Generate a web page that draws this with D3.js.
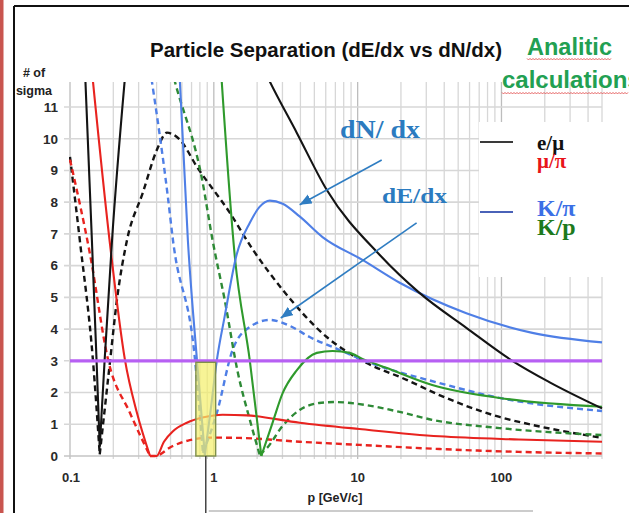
<!DOCTYPE html>
<html>
<head>
<meta charset="utf-8">
<script src="https://cdn.jsdelivr.net/npm/d3@7"></script>
<style>
  html, body { margin: 0; padding: 0; background: #fff; overflow: hidden; }
  svg { display: block; }
</style>
</head>
<body>
<svg id="chart" width="629" height="513"></svg>
<script>
// Separation power (number of sigma) versus momentum p [GeV/c].
// Each curve is split into monotone branches so the V-shaped minima stay sharp.

// e/mu, cluster counting (dN/dx) - solid black
const eMuN1 = [[0.127, 12.2], [0.142, 6.8], [0.153, 3.0], [0.161, 0.3]];
const eMuN2 = [[0.161, 0.3], [0.174, 3.0], [0.196, 6.8], [0.244, 12.2]];
const eMuN3 = [[2.22, 12.2], [2.45, 11.8], [3.77, 10.19], [6.09, 8.39], [14.2, 6.34], [26.9, 5.14],
               [57, 4.04], [119, 3.0], [215, 2.33], [500, 1.5]];
// e/mu, energy loss (dE/dx) - dashed black
const eMuE1 = [[0.1, 9.43], [0.117, 6.8], [0.1445, 3.0], [0.161, 0.05]];
const eMuE2 = [[0.161, 0.05], [0.19, 3.0], [0.212, 4.92], [0.249, 6.8], [0.321, 8.3], [0.402, 9.65],
               [0.472, 10.19], [0.58, 9.97], [0.762, 9.12], [1.29, 7.67], [1.87, 6.5], [3.01, 5.24],
               [6.09, 3.75], [10.8, 3.0], [21.9, 2.4], [37, 1.92], [97, 1.23], [164, 0.98], [500, 0.57]];

// mu/pi, dN/dx - solid red
const muPiN1 = [[0.1416, 12.2], [0.19, 6.65], [0.241, 3.03], [0.292, 1.36], [0.36, 0]];
const muPiN2 = [[0.36, 0], [0.4, 0], [0.45, 0.45], [0.52, 0.78], [0.65, 1.05], [0.85, 1.22], [1.15, 1.3],
                [1.7, 1.28], [3.95, 1.05], [10.3, 0.85], [37, 0.62], [132, 0.52], [500, 0.45]];
// mu/pi, dE/dx - dashed red
const muPiE1 = [[0.1, 9.34], [0.138, 6.34], [0.184, 3.03], [0.261, 1.36], [0.36, 0]];
const muPiE2 = [[0.36, 0], [0.39, 0], [0.51, 0.3], [0.68, 0.5], [0.98, 0.58], [1.51, 0.57], [3.95, 0.45],
                [10.3, 0.35], [37, 0.22], [132, 0.13], [500, 0.08]];

// K/pi, dN/dx - solid blue
const kPiN1 = [[0.575, 12.2], [0.66, 6.8], [0.763, 3.03], [0.866, 0.03]];
const kPiN2 = [[0.866, 0.03], [0.954, 1.5], [1.048, 3.0], [1.19, 4.4], [1.44, 6.34], [1.78, 7.35],
               [2.08, 7.85], [2.45, 8.05], [3.01, 7.95], [3.95, 7.55], [5.7, 6.9], [10.8, 6.18],
               [19.6, 5.46], [57, 4.5], [164, 3.88], [500, 3.58]];
// K/pi, dE/dx - dashed blue
const kPiE1 = [[0.36, 12.2], [0.479, 8.17], [0.52, 6.8], [0.74, 3.03], [0.84, 0.1]];
const kPiE2 = [[0.84, 0.1], [1.05, 1.36], [1.35, 3.34], [1.78, 4.07], [2.45, 4.29], [3.38, 4.1],
               [4.64, 3.75], [7.5, 3.34], [10.8, 3.03], [37, 2.3], [97, 1.83], [500, 1.42]];

// K/p, dN/dx - solid green
const kPN1 = [[1.12, 12.2], [1.40, 6.28], [1.78, 3.0], [2.14, 0]];
const kPN2 = [[2.14, 0], [2.57, 1.07], [3.01, 1.98], [3.77, 2.7], [5.2, 3.25], [6.7, 3.31], [8.8, 3.25],
              [10.8, 3.06], [15.8, 2.78], [33, 2.24], [97, 1.83], [500, 1.55]];
// K/p, dE/dx - dashed green
const kPE1 = [[0.508, 12.2], [0.536, 11.8], [0.83, 8.7], [0.98, 6.8], [1.19, 4.92], [1.47, 2.62],
              [1.78, 1.14], [2.08, 0.05]];
const kPE2 = [[2.08, 0.05], [2.34, 0.25], [3.01, 0.95], [3.95, 1.45], [5.4, 1.67], [6.9, 1.7],
              [11.6, 1.6], [19.6, 1.39], [33, 1.14], [97, 0.88], [500, 0.66]];

// 3-sigma discrimination threshold
const threshold = 3;
// momentum window highlighted around 1 GeV/c
const windowP = [0.75, 1.03];

// annotation arrows: [from, to] in (p, sigma)
const arrowDN = [[14.7, 9.33], [3.95, 7.92]];
const arrowDE = [[25.7, 7.35], [2.92, 4.35]];

const yTicks = [0, 1, 2, 3, 4, 5, 6, 7, 8, 9, 10, 11];
const xTickLabels = [[0.1, "0.1"], [1, "1"], [10, "10"], [100, "100"]];

const C = {
  black: "#141414",
  red: "#e8231f",
  blue: "#4f7fe6",
  green: "#2f9a2c",
  greenDash: "#2e8a36",
  purple: "#b760f3",
  arrow: "#2f7dc2"
};

const series = [
  { branches: [eMuE1, eMuE2], color: C.black, dashed: true },
  { branches: [muPiE1, muPiE2], color: C.red, dashed: true },
  { branches: [kPiE1, kPiE2], color: C.blue, dashed: true },
  { branches: [kPE1, kPE2], color: C.greenDash, dashed: true },
  { branches: [muPiN1, muPiN2], color: C.red, dashed: false },
  { branches: [kPN1, kPN2], color: C.green, dashed: false },
  { branches: [kPiN1, kPiN2], color: C.blue, dashed: false },
  { branches: [eMuN1, eMuN2, eMuN3], color: C.black, dashed: false }
];

const svg = d3.select("#chart");
const x = d3.scaleLog().domain([0.1, 500]).range([70, 602]);
const y = d3.scaleLinear().domain([0, 11.787]).range([456, 82]);

// page frame
svg.append("rect").attr("x", 0).attr("y", 0).attr("width", 3.5).attr("height", 513).attr("fill", "#c9554f");
svg.append("line").attr("x1", 14).attr("x2", 629).attr("y1", 6).attr("y2", 6)
  .attr("stroke", "#111").attr("stroke-width", 2);
svg.append("line").attr("x1", 14).attr("x2", 14).attr("y1", 6).attr("y2", 513)
  .attr("stroke", "#111").attr("stroke-width", 2);

// grid
const grid = svg.append("g");
const decade = v => Math.abs(Math.log10(v) - Math.round(Math.log10(v))) < 1e-9;
grid.selectAll("line.v").data(x.ticks()).join("line")
  .attr("x1", d => x(d)).attr("x2", d => x(d))
  .attr("y1", y.range()[1]).attr("y2", y(0) + 3)
  .attr("stroke", d => decade(d) ? "#bdbdbd" : "#d7d7d7")
  .attr("stroke-width", 1.3);
grid.selectAll("line.h").data(yTicks).join("line")
  .attr("x1", x(0.1) - 6).attr("x2", x(500))
  .attr("y1", d => y(d)).attr("y2", d => y(d))
  .attr("stroke", d => d === 0 ? "#c4c4c4" : "#d7d7d7")
  .attr("stroke-width", 1.6);

// white panel behind the legend
svg.append("rect").attr("x", 479).attr("y", 122).attr("width", 150).attr("height", 155).attr("fill", "#fff");

// axis labels
const tickFont = "'Liberation Sans', Arial, sans-serif";
svg.append("g").selectAll("text").data(yTicks).join("text")
  .attr("x", 58).attr("y", d => y(d)).attr("dy", "0.36em")
  .attr("text-anchor", "end")
  .attr("font-family", tickFont).attr("font-weight", "bold").attr("font-size", 13.5)
  .attr("fill", "#2a2a2a").text(d => d);
svg.append("g").selectAll("text").data(xTickLabels).join("text")
  .attr("x", d => x(d[0]) + (d[1] === "0.1" ? 1 : 0)).attr("y", 482)
  .attr("text-anchor", "middle")
  .attr("font-family", tickFont).attr("font-weight", "bold").attr("font-size", 13)
  .attr("fill", "#2a2a2a").text(d => d[1]);
svg.append("text").attr("x", 34).attr("y", 77).attr("text-anchor", "middle")
  .attr("font-family", tickFont).attr("font-weight", "bold").attr("font-size", 12.5)
  .attr("fill", "#222").text("# of");
svg.append("text").attr("x", 34).attr("y", 95).attr("text-anchor", "middle")
  .attr("font-family", tickFont).attr("font-weight", "bold").attr("font-size", 12.5)
  .attr("fill", "#222").text("sigma");
svg.append("text").attr("x", 335).attr("y", 502).attr("text-anchor", "middle")
  .attr("font-family", tickFont).attr("font-weight", "bold").attr("font-size", 12.5)
  .attr("fill", "#222").text("p [GeV/c]");

// title and side heading
svg.append("text").attr("x", 150).attr("y", 57)
  .attr("font-family", tickFont).attr("font-weight", "bold").attr("font-size", 20.5)
  .attr("textLength", 352).attr("lengthAdjust", "spacingAndGlyphs")
  .attr("fill", "#111").text("Particle Separation (dE/dx vs dN/dx)");
svg.append("text").attr("x", 527).attr("y", 55)
  .attr("font-family", tickFont).attr("font-weight", "bold").attr("font-size", 24)
  .attr("textLength", 85).attr("lengthAdjust", "spacingAndGlyphs")
  .attr("fill", "#22a052").text("Analitic");
svg.append("text").attr("x", 502).attr("y", 88)
  .attr("font-family", tickFont).attr("font-weight", "bold").attr("font-size", 24)
  .attr("fill", "#22a052").text("calculations");
// spell-check squiggles under the heading
function squiggle(x0, x1, yy) {
  const pts = d3.range(x0, x1 + 0.1, 1.5).map((xx, i) => [xx, yy + (i % 2 ? 1 : -0.6)]);
  svg.append("path").attr("d", d3.line()(pts)).attr("fill", "none")
    .attr("stroke", "#e04040").attr("stroke-width", 0.9).attr("opacity", 0.85);
}
squiggle(527, 612, 59);
squiggle(502, 629, 93);

// curves
const clipId = "plotClip";
svg.append("clipPath").attr("id", clipId).append("rect")
  .attr("x", x(0.1) - 1).attr("y", y.range()[1])
  .attr("width", x(500) - x(0.1) + 2).attr("height", y(0) - y.range()[1] + 3);

const line = d3.line().x(d => x(d[0])).y(d => y(d[1])).curve(d3.curveMonotoneX);
const curves = svg.append("g").attr("clip-path", `url(#${clipId})`);
series.forEach(s => {
  s.branches.forEach(b => {
    curves.append("path").attr("d", line(b))
      .attr("fill", "none").attr("stroke", s.color)
      .attr("stroke-width", s.dashed ? 2.4 : 2.1)
      .attr("stroke-dasharray", s.dashed ? "6,4" : null)
      .attr("stroke-linejoin", "round");
  });
});

// 3-sigma line
svg.append("line")
  .attr("x1", x(0.1)).attr("x2", x(500))
  .attr("y1", y(threshold)).attr("y2", y(threshold))
  .attr("stroke", C.purple).attr("stroke-width", 3.2);

// highlighted momentum window
svg.append("rect")
  .attr("x", x(windowP[0])).attr("y", y(threshold) + 1.5)
  .attr("width", x(windowP[1]) - x(windowP[0]))
  .attr("height", y(0) - y(threshold) - 1.5)
  .attr("fill", "#f4ef6a").attr("fill-opacity", 0.7)
  .attr("stroke", "#7f8f4a").attr("stroke-width", 1.4);
const wx = (x(windowP[0]) + x(windowP[1])) / 2;
svg.append("line").attr("x1", wx).attr("x2", wx).attr("y1", y(0)).attr("y2", 513)
  .attr("stroke", "#444").attr("stroke-width", 1.5);
svg.append("line").attr("x1", wx + 3).attr("x2", 533).attr("y1", 511).attr("y2", 511)
  .attr("stroke", "#bbb").attr("stroke-width", 1.5);

// annotations
const defs = svg.append("defs");
defs.append("marker").attr("id", "head")
  .attr("markerUnits", "userSpaceOnUse")
  .attr("markerWidth", 14).attr("markerHeight", 12)
  .attr("refX", 12).attr("refY", 5).attr("orient", "auto")
  .append("path").attr("d", "M0,0 L12,5 L0,10 Z").attr("fill", C.arrow);
[arrowDN, arrowDE].forEach(a => {
  svg.append("line")
    .attr("x1", x(a[0][0])).attr("y1", y(a[0][1]))
    .attr("x2", x(a[1][0])).attr("y2", y(a[1][1]))
    .attr("stroke", C.arrow).attr("stroke-width", 1.6)
    .attr("marker-end", "url(#head)");
});
const serif = "'Liberation Serif', 'Times New Roman', serif";
svg.append("text").attr("x", 340).attr("y", 138)
  .attr("font-family", serif).attr("font-weight", "bold").attr("font-size", 26)
  .attr("textLength", 80).attr("lengthAdjust", "spacingAndGlyphs")
  .attr("fill", "#2b7bc0").text("dN/ dx");
svg.append("text").attr("x", 382).attr("y", 203)
  .attr("font-family", serif).attr("font-weight", "bold").attr("font-size", 22)
  .attr("textLength", 65).attr("lengthAdjust", "spacingAndGlyphs")
  .attr("fill", "#2b7bc0").text("dE/dx");

// legend
const legendRows = [
  { text: "e/\u03bc", color: "#111", y: 150, size: 21 },
  { text: "\u03bc/\u03c0", color: "#e8141a", y: 168, size: 21 },
  { text: "K/\u03c0", color: "#3b6fe6", y: 216, size: 24 },
  { text: "K/p", color: "#1d7a1d", y: 235, size: 24 }
];
const legendBars = [{ y: 142, color: "#3a3a3a" }, { y: 212, color: "#4a62b8" }];
svg.append("g").selectAll("line").data(legendBars).join("line")
  .attr("x1", 480).attr("x2", 513).attr("y1", d => d.y).attr("y2", d => d.y)
  .attr("stroke", d => d.color).attr("stroke-width", 2);
svg.append("g").selectAll("text").data(legendRows).join("text")
  .attr("x", 537).attr("y", d => d.y)
  .attr("font-family", serif).attr("font-weight", "bold").attr("font-size", d => d.size)
  .attr("fill", d => d.color).text(d => d.text);
</script>
</body>
</html>
